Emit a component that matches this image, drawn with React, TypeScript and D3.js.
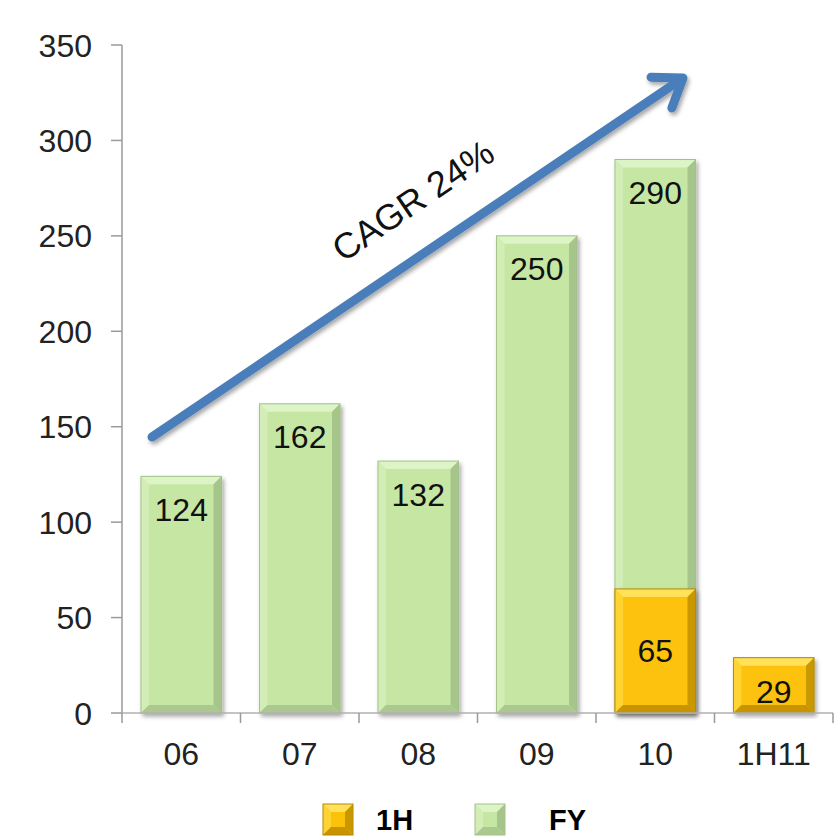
import React from "react";
import * as d3 from "d3";

const categories = ["06", "07", "08", "09", "10", "1H11"];
const fyValues: (number | null)[] = [124, 162, 132, 250, 290, null];
const h1Values: (number | null)[] = [null, null, null, null, 65, 29];
const yTicks = [0, 50, 100, 150, 200, 250, 300, 350];
const legendItems = ["1H", "FY"];
const arrowLabel = "CAGR 24%";

const W = 836, H = 836;
const m = { left: 122, right: 3, top: 45, bottom: 123 };

const y = d3.scaleLinear().domain([0, 350]).range([H - m.bottom, m.top]);
const x = d3.scaleBand().domain(categories).range([m.left, W - m.right]).paddingInner(0.32).paddingOuter(0.16);
const xCat = d3.scaleBand().domain(categories).range([m.left, W - m.right]);

const palettes = {
  FY: { main: "#c6e7a4", top: "#ddf4c6", left: "#d3edb6", right: "#a6c58b", bottom: "#abc98f", stroke: "#a3c188" },
  "1H": { main: "#fcc20a", top: "#ffe15a", left: "#ffd333", right: "#c99700", bottom: "#c89400", stroke: "#b68a00" },
};

function BevelBar({ x0, y0, w, h, pal }: any) {
  const b = Math.min(8, h / 3, w / 3);
  const x1 = x0 + w, y1 = y0 + h;
  return (
    <g>
      <rect x={x0} y={y0} width={w} height={h} fill={pal.main} />
      <polygon points={`${x0},${y0} ${x1},${y0} ${x1 - b},${y0 + b} ${x0 + b},${y0 + b}`} fill={pal.top} />
      <polygon points={`${x0},${y0} ${x0 + b},${y0 + b} ${x0 + b},${y1 - b} ${x0},${y1}`} fill={pal.left} />
      <polygon points={`${x1},${y0} ${x1},${y1} ${x1 - b},${y1 - b} ${x1 - b},${y0 + b}`} fill={pal.right} />
      <polygon points={`${x0},${y1} ${x1},${y1} ${x1 - b},${y1 - b} ${x0 + b},${y1 - b}`} fill={pal.bottom} />
      <rect x={x0} y={y0} width={w} height={h} fill="none" stroke={pal.stroke} strokeWidth={1} />
    </g>
  );
}

export default function App() {
  const bw = x.bandwidth();
  const ax0 = 152, ay0 = 437, ax1 = 683, ay1 = 78;
  const ang = Math.atan2(ay1 - ay0, ax1 - ax0);
  const angDeg = (ang * 180) / Math.PI;
  const headLen = 32;
  const hx1 = ax1 - headLen * Math.cos(ang - 0.62), hy1 = ay1 - headLen * Math.sin(ang - 0.62);
  const hx2 = ax1 - headLen * Math.cos(ang + 0.62), hy2 = ay1 - headLen * Math.sin(ang + 0.62);
  const font = "Liberation Sans, Arial, sans-serif";
  return (
    <div style={{ position: "fixed", left: 0, top: 0 }}>
      <svg width={W} height={H} style={{ display: "block", background: "#fff" }}>
        <defs>
          <filter id="sh" x="-10%" y="-10%" width="120%" height="120%">
            <feDropShadow dx="2" dy="3" stdDeviation="2" floodColor="#000" floodOpacity="0.35" />
          </filter>
        </defs>
        {/* y axis */}
        <line x1={m.left} x2={m.left} y1={y(350)} y2={y(0)} stroke="#9a9a9a" strokeWidth={1.5} />
        {yTicks.map((t) => (
          <g key={t}>
            <line x1={m.left - 11} x2={m.left} y1={y(t)} y2={y(t)} stroke="#9a9a9a" strokeWidth={1.5} />
            <text x={92} y={y(t)} dy="0.36em" textAnchor="end" fontFamily={font} fontSize={32} fill="#222">{t}</text>
          </g>
        ))}
        {/* bars */}
        {categories.map((c, i) => {
          const fy = fyValues[i];
          const h1 = h1Values[i];
          const x0 = x(c)!;
          return (
            <g key={c}>
              {fy != null && (
                <g filter="url(#sh)">
                  <BevelBar x0={x0} y0={y(fy)} w={bw} h={y(0) - y(fy)} pal={palettes.FY} />
                </g>
              )}
              {h1 != null && (
                <g filter="url(#sh)">
                  <BevelBar x0={x0} y0={y(h1)} w={bw} h={y(0) - y(h1)} pal={palettes["1H"]} />
                </g>
              )}
            </g>
          );
        })}
        {/* x axis */}
        <line x1={m.left} x2={W - m.right} y1={y(0)} y2={y(0)} stroke="#b0b0b0" strokeWidth={1.5} />
        {[...categories.map((c) => xCat(c)!), W - m.right].map((p, i) => (
          <line key={i} x1={p} x2={p} y1={y(0)} y2={y(0) + 10} stroke="#9a9a9a" strokeWidth={1.5} />
        ))}
        {categories.map((c) => (
          <text key={c} x={x(c)! + bw / 2} y={753} dy="0.36em" textAnchor="middle" fontFamily={font} fontSize={32} fill="#222">{c}</text>
        ))}
        {/* labels */}
        {categories.map((c, i) => {
          const fy = fyValues[i];
          const h1 = h1Values[i];
          const cx = x(c)! + bw / 2;
          return (
            <g key={c} fontFamily={font} fontSize={32} fill="#111" textAnchor="middle">
              {fy != null && <text x={cx} y={y(fy) + 33} dy="0.36em">{fy}</text>}
              {h1 != null && (
                <text x={cx} y={Math.max(y(h1) + 34, (y(h1) + y(0)) / 2)} dy="0.36em">{h1}</text>
              )}
            </g>
          );
        })}
        {/* arrow */}
        <g filter="url(#sh)" stroke="#4a7ebb" strokeWidth={9} strokeLinecap="round" strokeLinejoin="round" fill="none">
          <line x1={ax0} y1={ay0} x2={ax1 - 4 * Math.cos(ang)} y2={ay1 - 4 * Math.sin(ang)} />
          <polyline points={`${hx1},${hy1} ${ax1},${ay1} ${hx2},${hy2}`} />
        </g>
        <text
          transform={`translate(420,211) rotate(${angDeg})`}
          textAnchor="middle"
          fontFamily={font}
          fontSize={36}
          fill="#111"
        >
          {arrowLabel}
        </text>
        {/* legend */}
        {legendItems.map((k, i) => {
          const lx = i === 0 ? 323 : 475;
          return (
            <g key={k}>
              <BevelBar x0={lx} y0={804} w={30} h={31} pal={palettes[k as "1H" | "FY"]} />
              <text x={lx + (i === 0 ? 53 : 74)} y={820} dy="0.36em" fontFamily={font} fontWeight="bold" fontSize={29} fill="#000">{k}</text>
            </g>
          );
        })}
      </svg>
    </div>
  );
}
